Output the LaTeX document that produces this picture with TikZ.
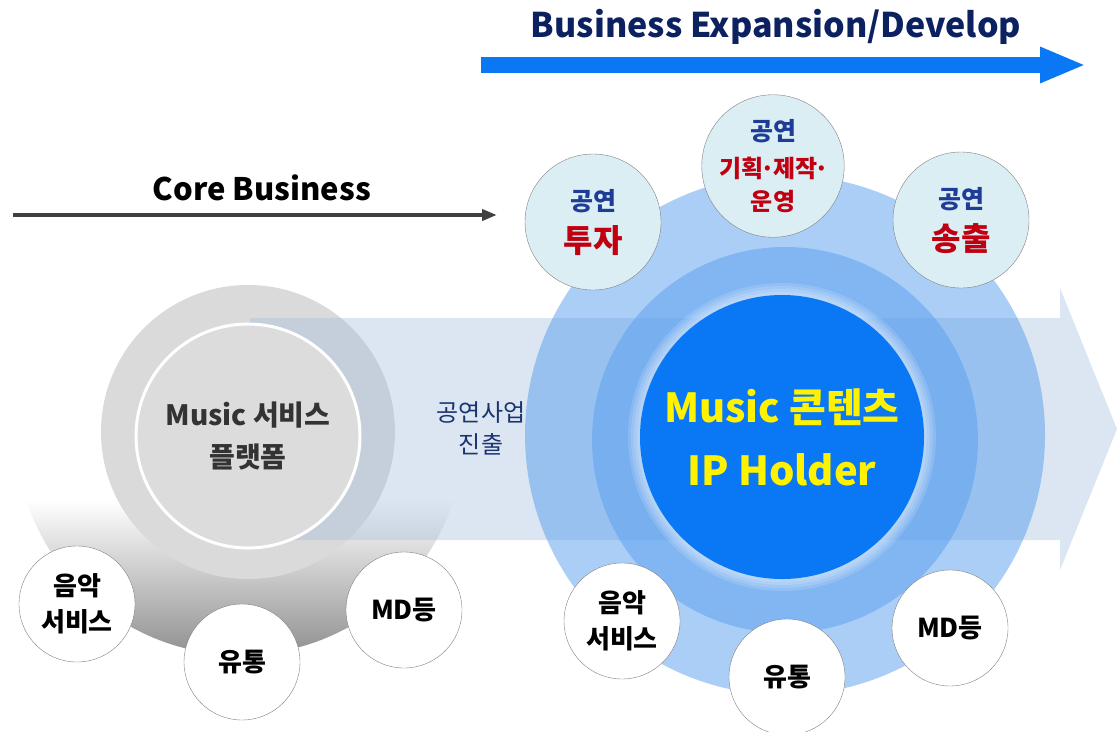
\documentclass[tikz,border=0pt]{standalone}
\usepackage{fontspec}
\setmainfont{Noto Sans CJK KR}
\usetikzlibrary{arrows.meta}
\definecolor{navy}{HTML}{0B2160}
\definecolor{darknavy}{HTML}{1A3470}
\definecolor{perfblue}{HTML}{1F3C96}
\definecolor{perfred}{HTML}{C00010}
\definecolor{arrowblue}{HTML}{0A78F5}
\definecolor{ringgrey}{HTML}{DADADA}
\definecolor{platgrey}{HTML}{DCDCDC}
\definecolor{bandblue}{HTML}{A7C0DE}
\definecolor{diskblue}{HTML}{579EEF}
\definecolor{paleblue}{HTML}{DBEEF4}
\definecolor{coregrey}{HTML}{404040}
\tikzstyle{small} = [circle, draw=gray, fill=white, minimum size=116pt, inner sep=0pt, align=center, text=black, font=\bfseries\fontsize{26}{36}\selectfont]
\tikzstyle{perf} = [circle, draw=gray, fill=paleblue, minimum size=136pt, inner sep=0pt, align=center, font=\bfseries\fontsize{25}{42}\selectfont]
\tikzstyle{title} = [inner sep=0pt, font=\bfseries\fontsize{31}{40}\selectfont]
\tikzstyle{disk} = [fill=diskblue, fill opacity=0.5]
\newcommand{\blu}[1]{{\color{perfblue}\fontsize{25}{42}\selectfont #1}}
\newcommand{\mdot}{\kern-.1em·\kern-.1em}

\begin{document}
\begin{tikzpicture}[x=1pt,y=-1pt]
\useasboundingbox (0,0) rectangle (1118,731);

% top arrows
\coordinate (es) at (481,65);
\coordinate (ee) at (1086,65);
\draw[arrowblue, line width=16pt, -{Triangle[length=46pt,width=33pt]}] (es) -- (ee);
\node (exptitle) [title, text=navy, font=\bfseries\fontsize{34}{40}\selectfont] at (776,27) {Business Expansion/Develop};

\coordinate (cs) at (13,215);
\coordinate (ce) at (497,215);
\draw[coregrey, line width=4pt, -{Triangle[length=15pt,width=11pt]}] (cs) -- (ce);
\node (coretitle) [title, text=black] at (262,188) {Core Business};

% core business circles
\begin{scope}
\clip (240,430) circle (225);
\shade[top color=white, bottom color=black!45] (0,500) rectangle (480,660);
\end{scope}
\fill[ringgrey] (248,432) circle (147);

% band arrow
\fill[bandblue, fill opacity=0.4] (250,318) -- (1060,318) -- (1060,288) -- (1117,429) -- (1060,570) -- (1060,540) -- (250,540) -- cycle;

\node (platform) [circle, fill=platgrey, draw=white, line width=3pt, minimum size=224pt, align=center, text=black!80, font=\bfseries\fontsize{28}{42}\selectfont] at (248,436) {Music 서비스\\플랫폼};

\node (entry) [align=center, text=darknavy, font=\fontsize{24}{32}\selectfont] at (481,428) {공연사업\\진출};

% IP holder
\fill[disk] (785,435) circle (260);
\fill[disk] (785,440) circle (193);
\foreach \r in {154,151,148,145}
  \fill[white, fill opacity=0.14] (782,437) circle (\r);
\node (ip) [circle, fill=arrowblue, minimum size=284pt, inner sep=0pt, align=center, text=yellow, font=\bfseries\fontsize{40}{63}\selectfont] at (782,437) {Music 콘텐츠\\IP Holder};

% performance circles
\node (invest) [perf] at (593,222) {\blu{공연}\\{\color{perfred}\fontsize{32}{42}\selectfont 투자}};
\node (produce) [perf, minimum size=134pt, font=\bfseries\fontsize{24}{37}\selectfont] at (773,166) {{\color{perfblue}\fontsize{25}{36}\selectfont 공연}\\{\color{perfred}\fontsize{24}{35}\selectfont 기획\mdot 제작\mdot}\\[-4pt]{\color{perfred}\fontsize{24}{33}\selectfont 운영}};
\node (broadcast) [perf] at (961,220) {\blu{공연}\\{\color{perfred}\fontsize{32}{42}\selectfont 송출}};

% bottom circles
\node (lservice) [small] at (77,604) {음악\\서비스};
\node (ldist) [small] at (242,662) {유통};
\node (lmd) [small] at (404,610) {MD등};

\node (rservice) [small] at (622,621) {음악\\서비스};
\node (rdist) [small] at (787,677) {유통};
\node (rmd) [small] at (950,628) {MD등};

\end{tikzpicture}
\end{document}
